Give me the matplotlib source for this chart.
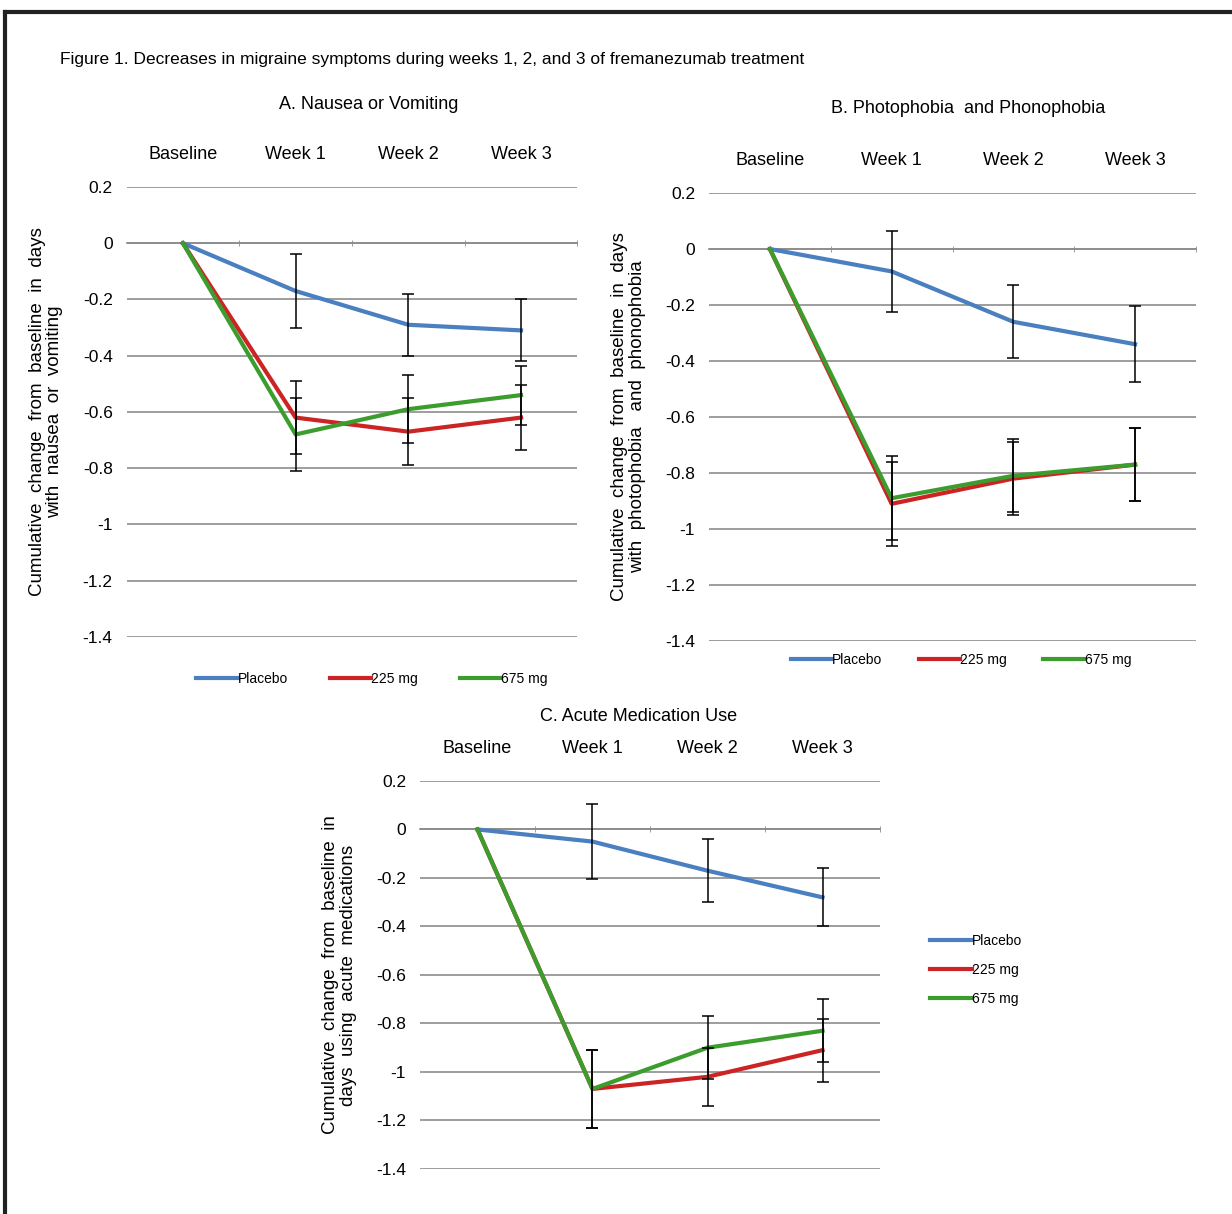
import matplotlib
matplotlib.use('Agg')
import matplotlib.pyplot as plt
from matplotlib.lines import Line2D

# categories and groups
weeks = ['Baseline', 'Week 1', 'Week 2', 'Week 3']
groups = ['Placebo', '225 mg', '675 mg']
colors = ['#4a7fc0', '#cc2424', '#3c9c2e']

# A. nausea or vomiting
a_placebo = [0, -0.17, -0.29, -0.31]
a_225 = [0, -0.62, -0.67, -0.62]
a_675 = [0, -0.68, -0.59, -0.54]
a_err_placebo = [0.13, 0.11, 0.11]
a_err_225 = [0.13, 0.12, 0.115]
a_err_675 = [0.13, 0.12, 0.105]

# B. photophobia and phonophobia
b_placebo = [0, -0.08, -0.26, -0.34]
b_225 = [0, -0.91, -0.82, -0.77]
b_675 = [0, -0.89, -0.81, -0.77]
b_err_placebo = [0.145, 0.13, 0.135]
b_err_225 = [0.15, 0.13, 0.13]
b_err_675 = [0.15, 0.13, 0.13]

# C. acute medication use
c_placebo = [0, -0.05, -0.17, -0.28]
c_225 = [0, -1.07, -1.02, -0.91]
c_675 = [0, -1.07, -0.90, -0.83]
c_err_placebo = [0.155, 0.13, 0.12]
c_err_225 = [0.16, 0.12, 0.13]
c_err_675 = [0.16, 0.13, 0.13]

plt.rcParams['font.family'] = ['Liberation Sans', 'DejaVu Sans']

fig = plt.figure(figsize=(12.32, 12.14), dpi=100)


def panel(rect, series, errs, ylabel):
    ax = fig.add_axes(rect)
    x = list(range(len(weeks)))
    for vals, err, col in zip(series, errs, colors):
        ax.plot(x, vals, color=col, lw=3, zorder=3)
        ax.errorbar(x[1:], vals[1:], yerr=err, fmt='none', ecolor='black',
                    elinewidth=1.1, capsize=4, capthick=1.1, zorder=4)
    ax.set_xlim(-0.5, len(weeks) - 0.5)
    ax.set_ylim(-1.4, 0.2)
    ax.set_yticks([0.2, 0, -0.2, -0.4, -0.6, -0.8, -1, -1.2, -1.4])
    ax.set_yticklabels(['0.2', '0', '-0.2', '-0.4', '-0.6', '-0.8', '-1', '-1.2', '-1.4'])
    ax.yaxis.grid(True, color='#8c8c8c', lw=1.2)
    ax.set_axisbelow(True)
    ax.tick_params(axis='y', length=0, pad=10, labelsize=12.5)
    ax.set_xticks(x)
    ax.set_xticklabels(weeks)
    ax.tick_params(axis='x', which='major', bottom=False, top=False,
                   labelbottom=False, labeltop=True, pad=14, labelsize=13)
    ax.set_xticks([0.5, 1.5, 2.5, 3.5], minor=True)
    ax.tick_params(axis='x', which='minor', bottom=True, length=5,
                   direction='inout', color='#8c8c8c')
    for s in ['top', 'left', 'right']:
        ax.spines[s].set_visible(False)
    ax.spines['bottom'].set_position(('data', 0))
    ax.spines['bottom'].set_color('#8c8c8c')
    ax.spines['bottom'].set_linewidth(1.2)
    ax.set_ylabel(ylabel, fontsize=13.5, labelpad=14, linespacing=1.05)
    return ax


ax_a = panel([0.1027, 0.4753, 0.366, 0.3707], [a_placebo, a_225, a_675],
             [a_err_placebo, a_err_225, a_err_675],
             'Cumulative  change  from  baseline  in  days\nwith  nausea  or  vomiting')
ax_b = panel([0.5755, 0.472, 0.3953, 0.369], [b_placebo, b_225, b_675],
             [b_err_placebo, b_err_225, b_err_675],
             'Cumulative  change  from  baseline  in  days\nwith  photophobia   and  phonophobia')
ax_c = panel([0.3409, 0.0371, 0.3734, 0.3196], [c_placebo, c_225, c_675],
             [c_err_placebo, c_err_225, c_err_675],
             'Cumulative  change  from  baseline  in\ndays  using  acute  medications')

fig.text(0.049, 0.951, 'Figure 1. Decreases in migraine symptoms during weeks 1, 2, and 3 of fremanezumab treatment',
         fontsize=12.5, va='center', ha='left')
fig.text(0.299, 0.914, 'A. Nausea or Vomiting', fontsize=13, ha='center', va='center')
fig.text(0.786, 0.911, 'B. Photophobia  and Phonophobia', fontsize=13, ha='center', va='center')
fig.text(0.518, 0.410, 'C. Acute Medication Use', fontsize=13, ha='center', va='center')

handles = [Line2D([], [], color=c, lw=3) for c in colors]
legend_font = {'size': 10}
fig.legend(handles, groups, loc='center', bbox_to_anchor=(0.302, 0.4407), ncol=3,
           frameon=False, prop=legend_font, handlelength=3.0,
           handletextpad=0.0, columnspacing=3.0)
fig.legend(handles, groups, loc='center', bbox_to_anchor=(0.78, 0.4563), ncol=3,
           frameon=False, prop=legend_font, handlelength=3.0,
           handletextpad=0.0, columnspacing=2.6)
fig.legend(handles, groups, loc='center left', bbox_to_anchor=(0.745, 0.201), ncol=1,
           frameon=False, prop=legend_font, handlelength=3.0,
           handletextpad=0.0, labelspacing=1.1)

# outer frame (left and top edges)
fig.add_artist(Line2D([0.004, 0.004], [0.0, 0.9905], color='#222222', lw=3, transform=fig.transFigure))
fig.add_artist(Line2D([0.004, 1.0], [0.9905, 0.9905], color='#222222', lw=3, transform=fig.transFigure))

fig.savefig('out.png', dpi=100)
